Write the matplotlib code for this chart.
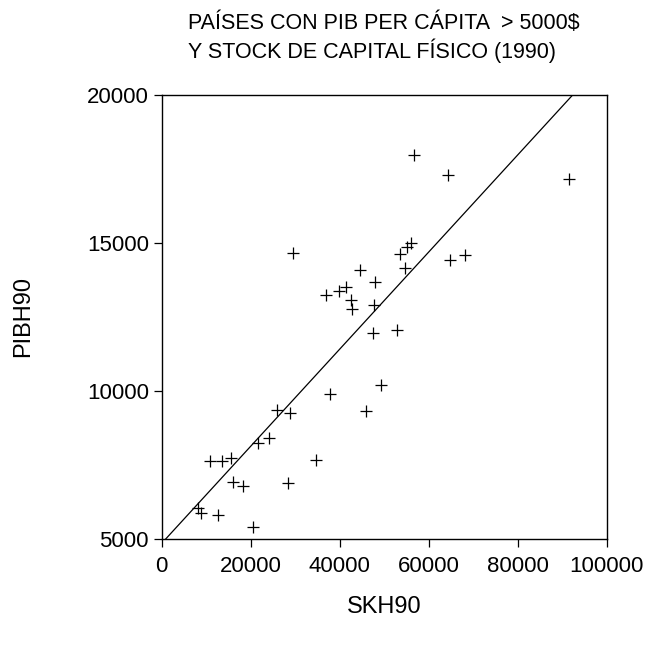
import numpy as np
import matplotlib
matplotlib.use("Agg")
import matplotlib.pyplot as plt

# capital stock per worker (x) and GDP per worker (y), 1990
skh90 = [37800, 26000, 28900, 21700, 24100, 10900, 13600, 15500, 34800, 16000,
         18400, 28500, 8100, 8800, 12800, 20600, 29500, 56000, 55100, 53600,
         54800, 44600, 48000, 41400, 39900, 36900, 42500, 42800, 47700, 47500,
         52800, 49300, 45900, 56600, 64300, 91600, 64900, 68200]
pibh90 = [9900, 9350, 9240, 8230, 8400, 7630, 7640, 7740, 7660, 6930,
          6800, 6880, 6040, 5890, 5810, 5400, 14650, 15000, 14850, 14610,
          14140, 14080, 13680, 13500, 13360, 13230, 13070, 12780, 12910, 11970,
          12060, 10200, 9310, 17970, 17290, 17160, 14420, 14600]

# fitted line
fit_intercept = 4846
fit_slope = 0.164

x_ticks = [0, 20000, 40000, 60000, 80000, 100000]
y_ticks = [5000, 10000, 15000, 20000]

title1 = "PAÍSES CON PIB PER CÁPITA  > 5000$"
title2 = "Y STOCK DE CAPITAL FÍSICO (1990)"

plt.rcParams['font.family'] = ['Liberation Sans', 'DejaVu Sans']

fig = plt.figure(figsize=(6.51, 6.48), dpi=100)
ax = fig.add_axes([161.5/651, 1-539/648, 445.25/651, 444.3/648])

ax.plot(skh90, pibh90, '+', color='black', markersize=8, markeredgewidth=0.9)

xs = np.array([0, 100000])
ax.plot(xs, fit_intercept + fit_slope*xs, color='black', linewidth=0.9)

ax.set_xlim(0, 100000)
ax.set_ylim(5000, 20000)
ax.set_xticks(x_ticks)
ax.set_yticks(y_ticks)
ax.set_xticklabels([str(t) for t in x_ticks])
ax.set_yticklabels([str(t) for t in y_ticks])
ax.tick_params(direction='out', length=6, width=0.9, labelsize=16,
               top=False, right=False)
ax.tick_params(axis='x', pad=6)
ax.tick_params(axis='y', pad=3)

for s in ax.spines.values():
    s.set_linewidth(1.0)

ax.set_xlabel("SKH90", fontsize=17, va='center')
ax.xaxis.set_label_coords(0.5, (539-607)/444.3)
ax.set_ylabel("PIBH90", fontsize=17, va='center')
ax.yaxis.set_label_coords((23-161.5)/445.25, 0.5)

fig.text(188/651, 1-29/648, title1, fontsize=15.5, ha='left', va='baseline')
fig.text(188/651, 1-57.7/648, title2, fontsize=15.5, ha='left', va='baseline')

fig.savefig("out.png", dpi=100)
